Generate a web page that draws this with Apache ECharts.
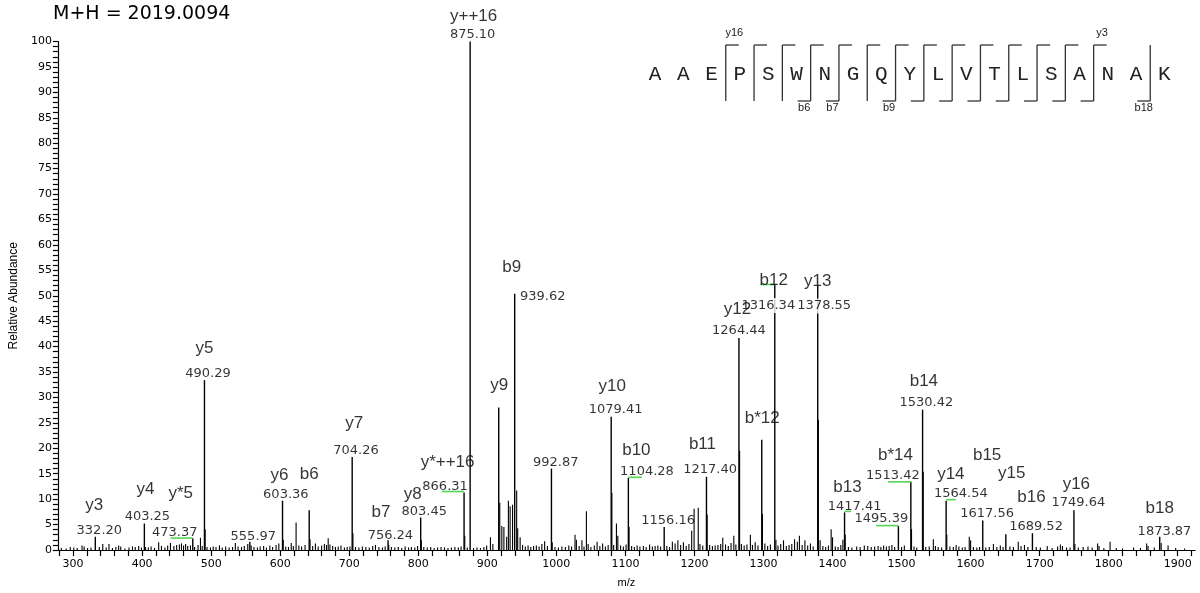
<!DOCTYPE html>
<html><head><meta charset="utf-8">
<script src="https://cdn.jsdelivr.net/npm/echarts@6/dist/echarts.min.js"></script>
<style>html,body{margin:0;padding:0;background:#fff}#c{width:1200px;height:593px}</style>
</head><body><div id="c"></div>
<script>
// ---------------- DATA ----------------
const titleText = 'M+H = 2019.0094';
const sequence = 'AAEPSWNGQYLVTLSANAK';
const bObserved = [6, 7, 9, 10, 11, 12, 13, 14, 15, 16, 18];
const yObserved = [3, 4, 5, 6, 7, 8, 9, 10, 11, 12, 13, 14, 15, 16];
const seqTopLabels = [[3, 'y16'], [16, 'y3']];
const seqBottomLabels = [[6, 'b6'], [7, 'b7'], [9, 'b9'], [18, 'b18']];

const xTickLabels = [300, 400, 500, 600, 700, 800, 900, 1000, 1100, 1200, 1300, 1400, 1500, 1600, 1700, 1800, 1900];
const yTickLabels = [0, 5, 10, 15, 20, 25, 30, 35, 40, 45, 50, 55, 60, 65, 70, 75, 80, 85, 90, 95, 100];

// annotated peaks
const peakMz  = [332.20, 403.25, 473.37, 490.29, 555.97, 603.36, 642.0, 704.26, 756.24, 803.45, 866.31, 875.10, 916.5, 939.62, 992.87, 1079.41, 1104.28, 1156.16, 1217.40, 1264.44, 1297.5, 1316.34, 1378.55, 1417.41, 1495.39, 1513.42, 1530.42, 1564.54, 1617.56, 1651.0, 1689.52, 1749.64, 1873.87];
const peakInt = [2.6, 5.2, 2.3, 33.4, 1.6, 9.7, 7.8, 18.3, 1.9, 6.4, 11.3, 100, 28.0, 50.4, 16.0, 26.2, 14.2, 4.5, 14.4, 41.7, 21.7, 52.2, 52.0, 7.4, 4.7, 13.4, 27.6, 9.7, 5.8, 3.1, 3.3, 7.8, 2.6];
const peakMzText = ['332.20', '403.25', '473.37', '490.29', '555.97', '603.36', '', '704.26', '756.24', '803.45', '866.31', '875.10', '', '939.62', '992.87', '1079.41', '1104.28', '1156.16', '1217.40', '1264.44', '', '1316.34', '1378.55', '1417.41', '1495.39', '1513.42', '1530.42', '1564.54', '1617.56', '', '1689.52', '1749.64', '1873.87'];
const peakIon = ['y3', 'y4', 'y*5', 'y5', '', 'y6', 'b6', 'y7', 'b7', 'y8', 'y*++16', 'y++16', 'y9', 'b9', '', 'y10', 'b10', '', 'b11', 'y12', 'b*12', 'b12', 'y13', 'b13', '', 'b*14', 'b14', 'y14', 'b15', 'y15', 'b16', 'y16', 'b18'];

// green label connectors: from m/z, to m/z, intensity
const connFrom = [441.4, 834.0, 1104.28, 1296.0, 1417.41, 1463.0, 1480.4, 1564.54];
const connTo   = [473.37, 866.31, 1124.0, 1316.34, 1427.0, 1495.39, 1513.42, 1578.5];
const connInt  = [2.35, 11.5, 14.3, 52.2, 7.6, 4.8, 13.4, 9.9];

// unlabelled peaks (isotopes, noise)
const minorMz = [283, 290, 296, 301, 306, 313, 316, 321, 326, 338, 343, 348, 352, 357, 362, 366, 369, 375, 381, 386, 390, 395, 399, 405, 409, 413, 418, 424, 428, 433, 437, 441, 446, 450, 454, 457, 460, 463, 466, 470, 476, 481, 484.5, 487, 491.3, 494, 499, 503, 507, 512, 516, 521, 526, 531, 535, 539, 544, 548, 553, 558, 562, 567, 571, 576, 580, 585, 589, 594, 598, 604.4, 608, 612, 616, 619, 623, 627, 631, 636, 643.2, 647, 651, 655, 660, 664, 667, 669.5, 672, 676, 680, 684, 688, 693, 697, 701, 705.3, 709, 714, 719, 724, 729, 734, 738, 743, 748, 752, 757.2, 761, 766, 771, 776, 781, 786, 790, 795, 799, 804.4, 808, 813, 818, 823, 828, 833, 838, 843, 848, 853, 858, 862, 867.3, 871, 880, 885, 890, 895, 899, 904.5, 908, 918, 921, 924, 928, 930.5, 933, 936.5, 942.5, 944, 947.5, 951, 955, 959, 963, 967, 971, 975, 979, 983, 987, 994, 998, 1003, 1008, 1013, 1018, 1022, 1027, 1029, 1033, 1037, 1040, 1043.5, 1046, 1050, 1055, 1059, 1063, 1067, 1071, 1075, 1080.4, 1083, 1087, 1089, 1093, 1097, 1101, 1105.3, 1109, 1113, 1117, 1121, 1126, 1130, 1135, 1139, 1143, 1147, 1151, 1160, 1164, 1168, 1172, 1176, 1180, 1184, 1188, 1192, 1196, 1199.5, 1205.5, 1208, 1212, 1218.4, 1222, 1226, 1230, 1234, 1238, 1241, 1245, 1249, 1253, 1257, 1260, 1265.4, 1268, 1272, 1276, 1281, 1284, 1288, 1292, 1298.5, 1302, 1306, 1310, 1318, 1321, 1325, 1329, 1333, 1337, 1341, 1345, 1349, 1352, 1356, 1360, 1364, 1368, 1372, 1379.5, 1382, 1386, 1390, 1394, 1398, 1400, 1404, 1408, 1412, 1415, 1418.4, 1423, 1428, 1435, 1440, 1446, 1451, 1456, 1461, 1466, 1470, 1474, 1478, 1482, 1486, 1490, 1500, 1504, 1514.4, 1518, 1522, 1531.4, 1535, 1540, 1546, 1549, 1553, 1558, 1565.5, 1570, 1575, 1579, 1583, 1588, 1592, 1598, 1600, 1604, 1609, 1613, 1622, 1627, 1633, 1638, 1643, 1647, 1657, 1662, 1669, 1673, 1678, 1683, 1695, 1701, 1711, 1718, 1726, 1730, 1733, 1739, 1744, 1751, 1756, 1763, 1770, 1776, 1784, 1786, 1793, 1802, 1811, 1820, 1836, 1846, 1855, 1857, 1866, 1876, 1886, 1897, 1910];
const minorInt = [0.4, 0.3, 0.6, 0.5, 0.4, 0.9, 0.7, 0.4, 0.5, 0.6, 1.2, 0.5, 1.2, 0.4, 0.6, 0.9, 0.7, 0.3, 0.5, 0.7, 0.6, 0.8, 0.5, 0.6, 0.5, 0.7, 0.4, 1.5, 0.8, 0.5, 0.9, 1.4, 0.8, 1.0, 1.1, 1.3, 0.9, 1.2, 0.8, 0.9, 0.6, 1.0, 2.4, 0.8, 4.1, 0.6, 0.5, 0.7, 0.6, 0.9, 0.5, 0.7, 0.5, 0.6, 1.4, 0.7, 0.6, 0.8, 1.2, 0.9, 0.6, 0.5, 0.7, 0.8, 0.5, 0.9, 0.6, 1.0, 1.3, 2.0, 0.7, 0.6, 1.4, 0.8, 5.4, 0.9, 0.7, 1.0, 2.1, 0.8, 1.3, 0.7, 0.9, 1.2, 1.0, 2.3, 1.1, 0.8, 0.6, 0.7, 0.9, 0.5, 0.6, 0.7, 3.3, 0.6, 0.5, 0.7, 0.6, 0.5, 0.8, 1.0, 0.6, 0.5, 0.7, 1.0, 0.6, 0.5, 0.6, 0.4, 0.7, 0.5, 0.6, 0.5, 0.8, 1.9, 0.6, 0.5, 0.6, 0.4, 0.5, 0.6, 0.5, 0.4, 0.5, 0.6, 0.5, 0.7, 2.8, 0.5, 0.4, 0.5, 0.4, 0.6, 0.9, 2.5, 1.2, 9.3, 4.7, 4.5, 2.6, 9.7, 8.6, 8.9, 11.7, 4.3, 2.5, 1.0, 0.7, 0.9, 0.6, 0.8, 0.9, 0.7, 1.2, 1.7, 0.8, 1.5, 0.6, 0.5, 0.7, 0.6, 0.9, 0.7, 3.0, 2.0, 0.8, 1.9, 0.7, 7.6, 1.2, 0.6, 0.9, 1.6, 0.8, 1.3, 0.7, 1.0, 11.2, 1.0, 5.2, 2.8, 0.9, 0.7, 1.1, 4.5, 0.8, 0.6, 0.9, 0.7, 0.8, 0.6, 1.1, 0.7, 0.8, 0.9, 0.7, 0.8, 0.6, 1.6, 1.3, 1.9, 1.0, 1.5, 0.8, 1.2, 3.8, 8.1, 8.3, 1.2, 0.9, 7.0, 1.0, 0.8, 0.9, 1.0, 1.2, 2.4, 1.1, 0.8, 1.4, 2.8, 1.1, 19.5, 1.2, 0.9, 1.1, 3.0, 1.0, 1.5, 0.9, 7.1, 1.3, 0.8, 1.1, 2.0, 0.9, 1.2, 1.9, 0.8, 1.0, 1.2, 2.1, 1.6, 2.8, 1.0, 1.9, 0.9, 1.3, 0.7, 25.6, 1.9, 0.8, 0.6, 0.9, 4.1, 2.5, 0.7, 0.6, 1.0, 2.0, 3.0, 0.6, 0.5, 0.7, 0.6, 0.9, 0.8, 0.6, 0.7, 0.8, 0.6, 0.9, 0.7, 0.8, 1.0, 0.6, 0.6, 0.9, 4.1, 0.7, 0.5, 15.4, 0.6, 0.7, 2.1, 0.8, 0.6, 0.5, 3.0, 0.7, 0.6, 1.0, 0.7, 0.5, 0.6, 2.6, 1.9, 0.6, 0.5, 0.6, 0.5, 0.6, 1.2, 0.6, 0.9, 0.6, 0.7, 0.6, 1.6, 0.8, 1.0, 0.6, 0.6, 0.5, 0.8, 0.4, 0.7, 1.1, 0.8, 0.5, 0.5, 1.2, 0.5, 0.6, 0.7, 0.5, 1.3, 0.8, 0.4, 1.6, 0.4, 0.3, 0.5, 0.4, 1.3, 0.8, 0.5, 1.4, 0.9, 0.4, 0.3];

// ---------------- LAYOUT (pixel nudges for labels, not data) ----------------
const mzLabelNudge = {
  0: [4, -6], 1: [3, -6.5], 2: [-18, -6], 3: [3.5, -6.5], 4: [3.5, -5], 5: [3.3, -6.5], 7: [3.8, -6], 8: [2.3, -5],
  9: [3.6, -6], 10: [-19, -6.3], 11: [2.5, -7], 13: [28, 3], 14: [4.3, -6.1], 15: [4.4, -7], 16: [18.6, -6], 17: [4, -6.8],
  18: [3.7, -6.8], 19: [0, -7.7], 21: [-6.5, 21], 22: [6.5, 20.5], 23: [10, -6], 24: [-17, -7.3], 25: [-18, -6], 26: [3.8, -6.9],
  27: [14.7, -7], 28: [4.4, -7.1], 30: [3.6, -7], 31: [4.4, -7.3], 32: [4.8, -5.6]
};
const ionLabelNudge = {
  0: [-1, -31], 1: [1, -34], 2: [-12, -45], 3: [0, -31.5], 5: [-3, -25], 6: [0, -36.3], 7: [2, -34], 8: [-7, -28],
  9: [-8, -23], 10: [-16.5, -30.3], 11: [3.5, -25], 12: [0.6, -22.3], 13: [-3, -26], 15: [1, -30.6], 16: [8, -27],
  18: [-4, -32.8], 19: [-1.4, -28.2], 20: [0.5, -21.2], 21: [-1, -4], 22: [0, -4], 23: [3, -25.4], 25: [-15.4, -26.5],
  26: [1.3, -27.9], 27: [4.7, -26.5], 28: [4.4, -65.6], 29: [6, -61], 30: [-1, -36], 31: [2.4, -26.3], 32: [0, -28]
};
const maskedMzLabels = [21, 22]; // labels drawn over their own peak line
const SEQ = { x0: 655, step: 28.3, yText: 74, yTop: 45, yBottom: 101, stub: 13 };

// ---------------- BUILD ----------------
const majorPeaks = peakMz.map((m, i) => [m, peakInt[i]]);
const minorPeaks = minorMz.map((m, i) => [m, minorInt[i]]);
const connectors = connFrom.map((m, i) => [m, connTo[i], connInt[i]]);

const mzLabelData = [], ionLabelData = [];
peakMz.forEach((m, i) => {
  if (peakMzText[i]) {
    const lab = { formatter: peakMzText[i], offset: mzLabelNudge[i] || [3.5, -6.5] };
    if (maskedMzLabels.includes(i)) { lab.backgroundColor = '#fff'; lab.padding = [1, 0]; }
    mzLabelData.push({ value: [m, peakInt[i]], label: lab });
  }
  if (peakIon[i]) ionLabelData.push({ value: [m, peakInt[i]], label: { formatter: peakIon[i], offset: ionLabelNudge[i] || [1, -30] } });
});

const xTickValues = [];
for (let v = 280; v <= 1920; v += 20) xTickValues.push(v);
const yTickValues = [];
for (let v = 0; v <= 100; v += 1) yTickValues.push(v);

function stickRender(width) {
  return function (params, api) {
    const p0 = api.coord([api.value(0), 0]);
    const p1 = api.coord([api.value(0), api.value(1)]);
    return { type: 'line', shape: { x1: p0[0], y1: p0[1], x2: p1[0], y2: p1[1] }, style: { stroke: '#000', lineWidth: width } };
  };
}

// sequence graphic
const seqEls = [];
const letterX = i => SEQ.x0 + i * SEQ.step;
for (let i = 0; i < sequence.length; i++) {
  seqEls.push({ type: 'text', x: letterX(i), y: SEQ.yText, style: { text: sequence[i], font: '21px "Liberation Mono"', fill: '#222', align: 'center', verticalAlign: 'middle' } });
}
const lineStyle = { stroke: '#333', lineWidth: 1.3 };
for (let c = 1; c < sequence.length; c++) {
  const cx = letterX(c - 1) + SEQ.step / 2;
  const hasB = bObserved.includes(c), hasY = yObserved.includes(sequence.length - c);
  if (!hasB && !hasY) continue;
  seqEls.push({ type: 'line', shape: { x1: cx, y1: SEQ.yTop, x2: cx, y2: SEQ.yBottom }, style: lineStyle });
  if (hasY) seqEls.push({ type: 'line', shape: { x1: cx, y1: SEQ.yTop, x2: cx + SEQ.stub, y2: SEQ.yTop }, style: lineStyle });
  if (hasB) seqEls.push({ type: 'line', shape: { x1: cx - SEQ.stub, y1: SEQ.yBottom, x2: cx, y2: SEQ.yBottom }, style: lineStyle });
}
seqTopLabels.forEach(([c, t]) => {
  const cx = letterX(c - 1) + SEQ.step / 2;
  seqEls.push({ type: 'text', x: cx + SEQ.stub / 2 + 2, y: SEQ.yTop - 12, style: { text: t, font: '11px "Liberation Sans"', fill: '#222', align: 'center', verticalAlign: 'middle' } });
});
seqBottomLabels.forEach(([c, t]) => {
  const cx = letterX(c - 1) + SEQ.step / 2;
  seqEls.push({ type: 'text', x: cx - SEQ.stub / 2, y: SEQ.yBottom + 7, style: { text: t, font: '11px "Liberation Sans"', fill: '#222', align: 'center', verticalAlign: 'middle' } });
});
seqEls.push({ type: 'text', x: 53, y: 14, style: { text: titleText, font: '19px "DejaVu Sans"', fill: '#000', align: 'left', verticalAlign: 'middle' } });

const chart = echarts.init(document.getElementById('c'));
chart.setOption({
  animation: false,
  backgroundColor: '#fff',
  grid: { left: 54, right: 5, top: 41.5, bottom: 36.5 },
  xAxis: {
    type: 'value', min: 278, max: 1925,
    name: 'm/z', nameLocation: 'middle', nameGap: 27,
    nameTextStyle: { fontFamily: 'Liberation Sans', fontSize: 11, color: '#000' },
    axisLine: { lineStyle: { color: '#000', width: 1.2 } },
    axisTick: { show: true, length: 6, customValues: xTickValues, lineStyle: { color: '#000', width: 1.2 } },
    axisLabel: { customValues: xTickLabels, formatter: v => String(v), fontFamily: 'DejaVu Sans', fontSize: 11, color: '#000', margin: 9 },
    splitLine: { show: false }
  },
  yAxis: {
    type: 'value', min: 0, max: 100,
    name: 'Relative Abundance', nameLocation: 'middle', nameGap: 32, nameRotate: 90,
    nameTextStyle: { fontFamily: 'Liberation Sans', fontSize: 12, color: '#000' },
    axisLine: { show: true, lineStyle: { color: '#000', width: 1.2 } },
    axisTick: { show: true, length: 5, customValues: yTickValues, lineStyle: { color: '#000', width: 1.2 } },
    axisLabel: { customValues: yTickLabels, formatter: v => String(v), fontFamily: 'DejaVu Sans', fontSize: 11, color: '#000', margin: 6 },
    splitLine: { show: false }
  },
  graphic: { elements: seqEls },
  series: [
    { type: 'custom', name: 'minor', data: minorPeaks, renderItem: stickRender(1.1), z: 2 },
    { type: 'custom', name: 'major', data: majorPeaks, renderItem: stickRender(1.4), z: 3 },
    {
      type: 'custom', name: 'connectors', data: connectors, z: 6,
      renderItem: (params, api) => {
        const a = api.coord([api.value(0), api.value(2)]);
        const b = api.coord([api.value(1), api.value(2)]);
        return { type: 'line', shape: { x1: a[0], y1: a[1], x2: b[0], y2: b[1] }, style: { stroke: '#55d455', lineWidth: 1.6 } };
      }
    },
    {
      type: 'scatter', name: 'mzLabels', data: mzLabelData, symbolSize: 1, itemStyle: { color: 'rgba(0,0,0,0)' }, z: 5,
      label: { show: true, position: 'inside', align: 'center', verticalAlign: 'middle', fontFamily: 'DejaVu Sans', fontSize: 13, color: '#000' }
    },
    {
      type: 'scatter', name: 'ionLabels', data: ionLabelData, symbolSize: 1, itemStyle: { color: 'rgba(0,0,0,0)' }, z: 7,
      label: { show: true, position: 'inside', align: 'center', verticalAlign: 'middle', fontFamily: 'Liberation Sans', fontSize: 17, color: '#000' }
    }
  ]
});
</script></body></html>
